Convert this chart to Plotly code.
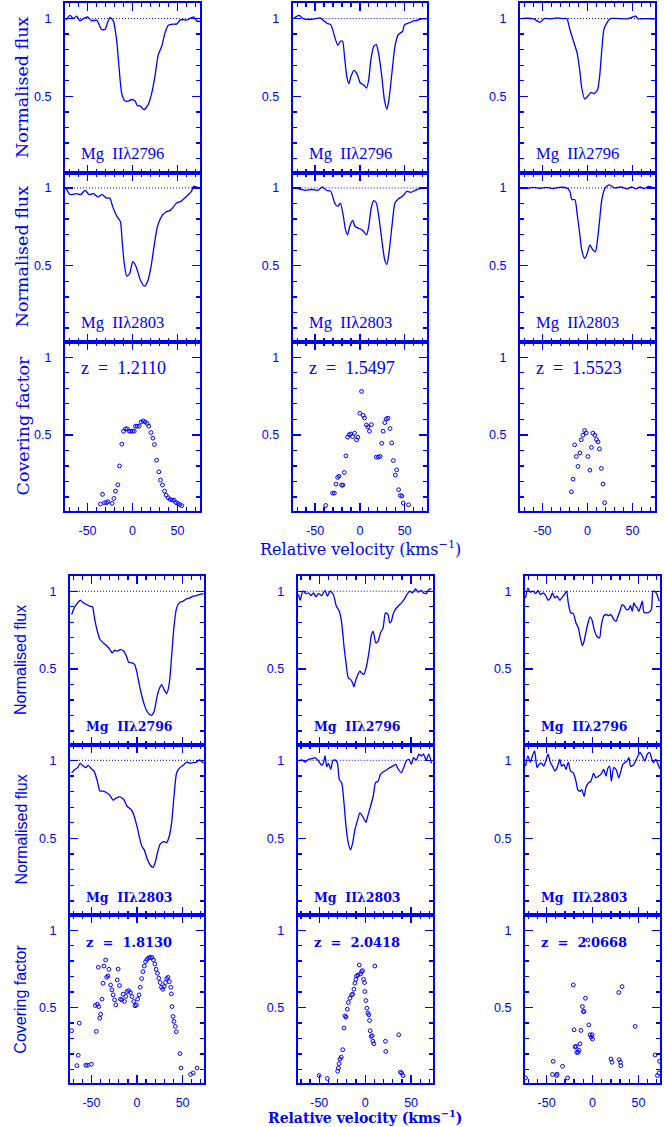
import plotly.graph_objects as go

# ------------------------------------------------------------------ data
# Top set, column 1 (z = 1.2110)
t1_v2796 = [-74, -69.4, -65.7, -62, -58.3, -54.6, -50, -45.4, -39.8, -34.3, -30.5, -27.9, -25, -21.3, -17.6,
            -15, -12, -8.3, -4.6, -0.9, 2.8, 5.4, 8.3, 12.8, 17.6, 21.3, 25, 28.7, 32.4, 36, 39.8, 45.4, 49,
            52.8, 56.5, 60.2, 65.7, 68.3, 71.3, 75]
t1_f2796 = [0.99, 1.02, 1.0, 1.015, 0.985, 1.0, 1.01, 0.985, 0.99, 0.93, 0.93, 0.97, 1.006, 0.985, 0.86,
            0.69, 0.52, 0.47, 0.47, 0.48, 0.47, 0.44, 0.44, 0.415, 0.45, 0.52, 0.63, 0.77, 0.82, 0.905, 0.957,
            0.964, 0.964, 0.99, 0.994, 0.99, 1.006, 1.01, 0.985, 0.98]
t1_v2803 = [-74, -69.3, -62.2, -57.5, -52.8, -48, -43.3, -38.6, -33.8, -29, -25.3, -22, -17.3, -13.5, -11.6,
            -9.2, -6.4, -3.1, 0.25, 4, 8.8, 13.5, 17.3, 20.6, 23.9, 27.7, 32.4, 37.2, 41.9, 44.3, 49, 53.7,
            60.8, 65.5, 67.9, 72.6, 75]
t1_f2803 = [1.0, 0.957, 0.963, 0.957, 0.985, 0.957, 0.963, 0.942, 0.957, 0.935, 0.935, 0.88, 0.817, 0.785,
            0.666, 0.515, 0.433, 0.45, 0.526, 0.494, 0.407, 0.369, 0.407, 0.494, 0.623, 0.752, 0.817, 0.845,
            0.856, 0.87, 0.903, 0.914, 0.95, 0.978, 1.01, 1.004, 1.0]
t1_vcf = [-35.6, -33.3, -31.1, -28.9, -27.4, -22.6, -20.7, -18.9, -16.3, -14.4, -11.9, -10, -7.8, -5.9, -3.7,
          -1.9, 0, 1.9, 3.3, 5.2, 7.4, 9.6, 11.9, 14.1, 16.3, 18.1, 20.4, 22.6, 24.4, 26.7, 29.3, 31.1, 33.3,
          35.6, 37.4, 39.6, 41.9, 44.1, 46.3, 48.1, 50.4, 52.6, 54.8]
t1_cf = [0.055, 0.117, 0.063, 0.063, 0.07, 0.059, 0.091, 0.138, 0.179, 0.30, 0.44, 0.524, 0.539, 0.539, 0.524,
         0.524, 0.524, 0.524, 0.556, 0.556, 0.556, 0.583, 0.59, 0.583, 0.573, 0.556, 0.515, 0.479, 0.438,
         0.337, 0.262, 0.209, 0.177, 0.138, 0.112, 0.095, 0.085, 0.08, 0.08, 0.065, 0.059, 0.052, 0.044]

# Top set, column 2 (z = 1.5497)
t2_v2796 = [-74, -67.9, -63.2, -56.1, -49, -44.3, -39.6, -36.3, -32.5, -27.8, -24.5, -21.7, -19.3, -17, -14.6,
            -12.3, -9.9, -6.6, -2.8, 0.5, 4.2, 7.5, 9.9, 12.3, 15.6, 18.4, 20.8, 24.1, 27.4, 30.2, 32.5, 35.8,
            39.2, 42.9, 47.6, 50, 54.7, 59.4, 64.2, 68.9, 75]
t2_f2796 = [1.0, 1.02, 1.0, 0.994, 1.0, 1.004, 0.983, 0.968, 0.961, 0.876, 0.828, 0.854, 0.854, 0.747, 0.629,
            0.582, 0.629, 0.667, 0.64, 0.586, 0.575, 0.554, 0.607, 0.736, 0.822, 0.833, 0.779, 0.65, 0.479,
            0.418, 0.479, 0.65, 0.822, 0.897, 0.918, 0.961, 0.972, 0.983, 0.989, 0.998, 1.0]
t2_v2803 = [-74, -67.9, -60.8, -53.8, -46.7, -42, -37.3, -32.5, -27.8, -24.5, -21.7, -18.4, -16, -13.7, -11.3,
            -8, -5.2, -1.9, 1.4, 4.2, 7.5, 9.9, 12.7, 15.6, 18.4, 21.7, 25, 27.8, 30.2, 32.5, 35.8, 39.2, 42.9,
            47.6, 52.4, 57.1, 61.8, 66.5, 75]
t2_f2803 = [1.0, 0.994, 0.985, 0.99, 0.985, 1.006, 0.985, 0.978, 0.899, 0.881, 0.903, 0.817, 0.731, 0.699,
            0.752, 0.791, 0.752, 0.742, 0.735, 0.72, 0.699, 0.752, 0.871, 0.918, 0.903, 0.795, 0.645, 0.537,
            0.509, 0.58, 0.752, 0.903, 0.929, 0.946, 0.978, 0.972, 0.985, 0.994, 1.0]
t2_vcf = [-38.1, -30.4, -28.5, -26.7, -24.8, -23.3, -20.4, -18.9, -17.4, -15.6, -13.7, -11.9, -10, -8.1, -5.9,
          -3.7, -2.2, 0, 1.9, 3.7, 5.2, 7.4, 8.9, 10.7, 13, 18.5, 20.7, 22.6, 24.4, 25.9, 27.8, 29.6, 31.5,
          33.7, 35.6, 37.4, 39.6, 41.1, 43.3, 45.2, 47, 48.5, 54.4]
t2_cf = [0.046, 0.125, 0.125, 0.183, 0.226, 0.234, 0.177, 0.177, 0.258, 0.365, 0.485, 0.502, 0.506, 0.489,
         0.511, 0.468, 0.485, 0.639, 0.78, 0.626, 0.609, 0.564, 0.551, 0.524, 0.566, 0.357, 0.357, 0.361,
         0.446, 0.524, 0.579, 0.603, 0.607, 0.541, 0.449, 0.335, 0.241, 0.275, 0.147, 0.11, 0.106, 0.061, 0.05]

# Top set, column 3 (z = 1.5523)
t3_v2796 = [-74, -67, -59.9, -52.8, -48, -41, -33.8, -26.7, -23, -19.6, -14.9, -11.6, -8.7, -6.4, -3.1, 0.7,
            4, 7.3, 11.1, 13.5, 15.9, 18.2, 21.5, 25.3, 34.8, 44.3, 53.7, 56.1, 63.2, 75]
t3_f2796 = [1.0, 1.002, 0.998, 0.976, 1.0, 0.998, 1.004, 1.0, 1.0, 0.93, 0.843, 0.78, 0.672, 0.554, 0.483,
            0.504, 0.526, 0.517, 0.543, 0.629, 0.8, 0.929, 0.972, 1.0, 1.0, 0.998, 1.015, 0.998, 1.0, 0.998]
t3_v2803 = [-74, -67, -59.9, -52.8, -45.7, -38.6, -31.5, -23, -19.6, -17.3, -14, -11.6, -8.7, -6.4, -3.1, -0.2,
            2.6, 5.5, 8.8, 11.1, 13.5, 15.9, 19.6, 24.4, 30, 37.2, 44.3, 49, 53.7, 58.5, 63.2, 67.9, 75]
t3_f2803 = [1.0, 0.998, 1.004, 0.998, 1.004, 0.996, 1.004, 1.0, 0.978, 0.925, 0.925, 0.838, 0.709, 0.6, 0.547,
            0.58, 0.634, 0.606, 0.59, 0.666, 0.795, 0.925, 1.0, 1.02, 1.0, 1.006, 0.994, 1.006, 0.994, 1.006,
            0.996, 1.01, 0.998]
t3_vcf = [-17.9, -16.1, -14.3, -12.5, -10.6, -8.4, -7, -5.1, -3.3, -1.5, 0.4, 2.6, 4.4, 5.9, 8.1, 10, 11.7,
          13.2, 15.4, 17.2, 19]
t3_cf = [0.134, 0.215, 0.436, 0.361, 0.297, 0.384, 0.468, 0.498, 0.528, 0.513, 0.361, 0.273, 0.419, 0.511,
         0.498, 0.47, 0.455, 0.41, 0.284, 0.183, 0.063]

# Bottom set, column 1 (z = 1.8130)
b1_v2796 = [-71.7, -68.8, -65.2, -62.3, -58.7, -55.1, -51.4, -48.9, -46.4, -43.5, -40.6, -36.2, -32.6, -29.7,
            -27.2, -24.6, -21.7, -18.1, -14.5, -11.6, -9.1, -5.4, -2.5, 0, 2.9, 5.4, 8, 10.9, 13.8, 16.3, 18.8,
            21.7, 24.3, 27.2, 29.7, 32.6, 35.5, 38, 40.6, 43.5, 47.1, 50.7, 54.3, 58, 61.6, 65.2, 68.8, 73]
b1_f2796 = [0.85, 0.893, 0.925, 0.942, 0.925, 0.914, 0.903, 0.9, 0.818, 0.742, 0.689, 0.663, 0.646, 0.624,
            0.603, 0.62, 0.614, 0.624, 0.614, 0.582, 0.543, 0.539, 0.528, 0.474, 0.388, 0.324, 0.27, 0.227,
            0.206, 0.202, 0.227, 0.313, 0.371, 0.399, 0.367, 0.341, 0.41, 0.582, 0.775, 0.893, 0.929, 0.936,
            0.951, 0.957, 0.968, 0.972, 0.979, 0.985]
b1_v2803 = [-71.7, -68.8, -65.2, -62.3, -59.8, -56.2, -53.6, -50, -47.1, -43.5, -40.6, -37, -33.3, -29.7,
            -26.1, -22.5, -18.8, -14.5, -10.9, -6.5, -3.6, 0, 2.9, 5.4, 8, 10.9, 14.5, 17.4, 19.9, 22.5, 25.4,
            29, 32.6, 35.5, 38, 40.6, 43.5, 47.1, 50.7, 54.3, 58, 61.6, 65.2, 68.8, 73]
b1_f2803 = [0.92, 0.938, 0.953, 0.981, 0.968, 0.953, 0.968, 0.946, 0.931, 0.867, 0.803, 0.803, 0.792, 0.775,
            0.745, 0.76, 0.766, 0.749, 0.706, 0.685, 0.652, 0.577, 0.502, 0.448, 0.427, 0.373, 0.33, 0.315,
            0.345, 0.41, 0.463, 0.479, 0.474, 0.517, 0.601, 0.77, 0.92, 0.953, 0.968, 0.989, 0.981, 0.985,
            0.989, 1.002, 0.981]
b1_vcf = [-71.7, -66, -64.5, -63.4, -56.2, -54.3, -50, -45.7, -44.6, -43.5, -42.4, -42, -40.9, -39.9, -38.4,
          -37.3, -36.2, -34.4, -33.3, -31.9, -30.8, -29, -27.5, -26.1, -24.6, -23.2, -21.7, -20.7, -19.2,
          -18.1, -16.7, -15.2, -13.8, -12.3, -10.9, -9.1, -7.2, -5.4, -3.6, -2.2, -0.7, 0.7, 2.2, 3.6, 5.1,
          6.5, 8, 9.4, 10.9, 12.7, 14.5, 16.3, 18.1, 19.6, 21, 22.5, 23.9, 25.4, 26.8, 28.3, 29.7, 31.2, 32.6,
          34.1, 35.5, 37, 37.7, 38.4, 39.5, 40.6, 42, 43.1, 47.1, 48.2, 58.7, 61.6, 65.9]
b1_cf = [0.35, 0.124, 0.191, 0.399, 0.127, 0.127, 0.133, 0.513, 0.345, 0.521, 0.76, 0.506, 0.431, 0.457,
         0.554, 0.657, 0.768, 0.807, 0.695, 0.704, 0.747, 0.646, 0.614, 0.582, 0.549, 0.517, 0.678, 0.749,
         0.642, 0.554, 0.549, 0.586, 0.539, 0.571, 0.603, 0.609, 0.597, 0.571, 0.539, 0.511, 0.517, 0.554,
         0.582, 0.631, 0.687, 0.732, 0.768, 0.796, 0.811, 0.82, 0.824, 0.824, 0.807, 0.781, 0.747, 0.721,
         0.689, 0.661, 0.631, 0.618, 0.635, 0.661, 0.687, 0.695, 0.667, 0.631, 0.588, 0.506, 0.442, 0.41,
         0.378, 0.343, 0.202, 0.109, 0.067, 0.077, 0.109]

# Bottom set, column 2 (z = 2.0418)
b2_v2796 = [-72.6, -70.8, -67.9, -64.3, -61.7, -59.2, -56.3, -53.4, -50.9, -47.3, -43.7, -41.2, -38.3, -34.7,
            -31.4, -28.2, -25.6, -23.1, -20.9, -18.4, -15.9, -13.7, -12.3, -10.1, -7.9, -5.8, -4, -1.4, 1.4,
            4.3, 6.9, 8.7, 11.6, 14.1, 16.6, 19.5, 22, 24.9, 26.7, 28.5, 30.3, 33.2, 35.7, 39.4, 42.2, 45.5,
            48.4, 51.3, 54.9, 57.4, 61, 63.5, 66.4, 69.3, 72.2]
b2_f2796 = [0.979, 0.942, 1.0, 0.985, 0.989, 0.972, 0.989, 0.964, 0.985, 0.972, 1.006, 0.968, 1.0, 0.979,
            0.903, 0.871, 0.796, 0.646, 0.539, 0.442, 0.431, 0.41, 0.384, 0.431, 0.464, 0.485, 0.474, 0.464,
            0.517, 0.614, 0.721, 0.742, 0.667, 0.678, 0.732, 0.764, 0.861, 0.85, 0.796, 0.807, 0.85, 0.886,
            0.903, 0.925, 0.946, 0.979, 1.0, 0.989, 1.015, 0.994, 1.006, 0.989, 0.985, 1.011, 1.015]
b2_v2803 = [-72.6, -69, -65.3, -61.7, -58.1, -54.5, -50.9, -47.3, -45.5, -43.7, -41.9, -40.1, -37.5, -35.4,
            -32.9, -30.3, -28.2, -25.6, -23.1, -20.9, -18.4, -15.9, -13.7, -11.2, -8.7, -5.8, -2.9, 0.7, 3.2,
            5.8, 8.7, 11.2, 14.1, 16.6, 19.5, 23.1, 26.7, 30.3, 33.2, 35.7, 39.4, 41.9, 44.8, 47.7, 50.2, 52.7,
            55.6, 58.5, 61, 63.5, 66.4, 69.3, 72.2]
b2_f2803 = [0.996, 1.002, 0.989, 1.006, 1.011, 1.017, 0.996, 0.968, 0.985, 1.028, 0.959, 0.981, 0.942, 0.996,
            1.002, 0.985, 0.878, 0.856, 0.727, 0.577, 0.47, 0.427, 0.47, 0.556, 0.609, 0.663, 0.642, 0.603,
            0.652, 0.706, 0.77, 0.856, 0.867, 0.91, 0.925, 0.938, 0.953, 0.964, 0.974, 0.946, 0.921, 0.953,
            0.996, 1.006, 0.974, 1.017, 1.002, 1.039, 1.028, 1.039, 1.002, 1.039, 0.981]
b2_vcf = [-50.2, -41.2, -30, -29.2, -28.5, -27.4, -26, -24.5, -23.1, -22, -20.9, -19.5, -18.4, -16.6, -14.8,
          -13.7, -12.3, -11.2, -10.1, -9.4, -7.9, -6.5, -5.1, -4, -2.9, -1.8, -0.7, -0.4, 0.7, 1.8, 2.9, 4,
          4.7, 5.4, 6.5, 7.6, 8.3, 9.4, 10.5, 22, 22.4, 36.5, 38.3, 39.7, 41.2]
b2_cf = [0.06, 0.041, 0.088, 0.109, 0.137, 0.167, 0.18, 0.227, 0.367, 0.446, 0.438, 0.489, 0.532, 0.56, 0.582,
         0.586, 0.618, 0.657, 0.682, 0.704, 0.71, 0.775, 0.717, 0.732, 0.738, 0.682, 0.661, 0.603, 0.545,
         0.496, 0.464, 0.453, 0.416, 0.35, 0.313, 0.318, 0.282, 0.266, 0.768, 0.282, 0.216, 0.324, 0.082,
         0.077, 0.06]

# Bottom set, column 3 (z = 2.0668)
b3_v2796 = [-72.9, -70.3, -67.8, -64.8, -61.9, -59.3, -56.8, -53.8, -50.9, -48.4, -45.8, -43.6, -41, -38.5,
            -35.5, -32.6, -30, -28.2, -26.4, -23.8, -20.9, -18, -15.4, -13.6, -11, -9.2, -7, -4.4, -2.6, -0.7,
            1.8, 4.8, 7.7, 9.5, 12.1, 15, 17.6, 20.1, 23.1, 25.6, 27.8, 30.4, 32.2, 34.8, 37, 39.6, 41.4, 43.2,
            45.1, 46.9, 48.7, 50.5, 52.4, 54.2, 56, 59, 61.5, 64.1, 65.9, 68.9, 70.7, 72.5]
b3_f2796 = [0.957, 1.02, 0.994, 1.0, 0.985, 1.006, 0.979, 0.989, 0.972, 0.942, 0.957, 0.989, 0.957, 0.968,
            0.942, 0.964, 0.985, 1.0, 0.925, 0.861, 0.856, 0.796, 0.764, 0.71, 0.65, 0.678, 0.742, 0.807, 0.835,
            0.818, 0.753, 0.71, 0.7, 0.775, 0.839, 0.85, 0.843, 0.85, 0.818, 0.807, 0.839, 0.882, 0.914, 0.903,
            0.882, 0.886, 0.908, 0.871, 0.925, 0.903, 0.893, 0.871, 0.903, 0.936, 0.865, 0.861, 0.865, 0.882,
            1.0, 0.994, 0.972, 0.936]
b3_v2803 = [-72.9, -70.3, -67.8, -64.8, -63, -60.4, -58.2, -55.7, -53.1, -50.9, -48.4, -45.8, -43.6, -41,
            -38.5, -35.5, -33.7, -31.1, -28.9, -26.4, -23.8, -20.9, -18, -16.1, -13.6, -11.7, -9.2, -7.3, -4.4,
            -1.8, 1.1, 3.7, 6.6, 9.2, 12.1, 14.7, 16.5, 18.7, 20.5, 23.1, 25.6, 28.6, 30.4, 33, 35.2, 37.7,
            39.6, 41.4, 44.3, 46.9, 49.5, 51.6, 54.2, 56.8, 59.7, 62.3, 64.1, 66.3, 68.9, 71.4, 73.3]
b3_f2803 = [0.963, 1.028, 0.989, 1.039, 1.06, 0.953, 0.974, 0.981, 0.963, 0.996, 1.039, 0.985, 0.963, 0.931,
            0.953, 1.006, 0.963, 0.974, 0.942, 0.989, 0.931, 0.92, 0.866, 0.813, 0.802, 0.813, 0.769, 0.823,
            0.856, 0.866, 0.916, 0.888, 0.899, 0.91, 0.942, 0.899, 0.946, 0.963, 0.866, 0.953, 0.942, 0.888,
            0.92, 0.974, 0.985, 0.996, 1.017, 0.963, 0.968, 0.996, 1.028, 1.05, 1.028, 0.996, 1.039, 1.05,
            1.017, 0.985, 1.006, 0.974, 0.946]
b3_vcf = [-72.9, -43.6, -42.9, -39.2, -38.5, -32.6, -27.1, -20.9, -20.1, -19, -17.9, -17.2, -15.7, -14.7,
          -13.6, -12.5, -11, -9.9, -9.2, -7.7, -5.1, -4, -2.6, -1.5, -0.4, 0, 20.1, 21.2, 28.6, 28.9, 30.4,
          30.8, 32.2, 46.5, 68.1, 70.7, 72.5, 72.9]
b3_cf = [0.045, 0.067, 0.152, 0.06, 0.069, 0.12, 0.045, 0.646, 0.356, 0.245, 0.249, 0.21, 0.21, 0.223, 0.266,
         0.352, 0.506, 0.474, 0.474, 0.56, 0.936, 0.388, 0.324, 0.309, 0.324, 0.296, 0.167, 0.146, 0.597,
         0.163, 0.146, 0.124, 0.635, 0.378, 0.193, 0.06, 0.077, 0.152]

redshifts_top = ["1.2110", "1.5497", "1.5523"]
redshifts_bot = ["1.8130", "2.0418", "2.0668"]
line_names = ["Mg IIλ2796", "Mg IIλ2803"]
x_tickvals = [-50, 0, 50]
x_ticktext = ["-50", "0", "50"]
x_minor = [-70, -60, -40, -30, -20, -10, 10, 20, 30, 40, 60, 70]
y_tickvals = [0.5, 1]
y_ticktext = ["0.5", "1"]
y_minor = [0.1, 0.2, 0.3, 0.4, 0.6, 0.7, 0.8, 0.9]

# ------------------------------------------------------------------ layout geometry (pixels)
W, H = 664, 1127
BLUE = "#0000ff"

def fx(x):
    return x / W

def fy(y):
    return 1 - y / H

groups = [
    dict(cols=[(65, 200), (292.7, 427), (520, 655)],
         rows=[(3.3, 172.7), (172.7, 342), (342, 511)],
         xr=[-75, 75],
         data=[[(t1_v2796, t1_f2796), (t1_v2803, t1_f2803), (t1_vcf, t1_cf)],
               [(t2_v2796, t2_f2796), (t2_v2803, t2_f2803), (t2_vcf, t2_cf)],
               [(t3_v2796, t3_f2796), (t3_v2803, t3_f2803), (t3_vcf, t3_cf)]],
         z=redshifts_top, top=True),
    dict(cols=[(70, 204), (297.7, 432.7), (525, 660)],
         rows=[(576, 745), (745, 915), (915, 1083.3)],
         xr=[-73.5, 73.5],
         data=[[(b1_v2796, b1_f2796), (b1_v2803, b1_f2803), (b1_vcf, b1_cf)],
               [(b2_v2796, b2_f2796), (b2_v2803, b2_f2803), (b2_vcf, b2_cf)],
               [(b3_v2796, b3_f2796), (b3_v2803, b3_f2803), (b3_vcf, b3_cf)]],
         z=redshifts_bot, top=False),
]

YR = [0.01, 1.098]
tickfont = dict(family="Liberation Sans, Arial, sans-serif", size=12.5, color=BLUE)

fig = go.Figure()
layout = dict(width=W, height=H, margin=dict(l=0, r=0, t=0, b=0),
              paper_bgcolor="white", plot_bgcolor="white", showlegend=False)
annotations = []

n = 0
for g in groups:
    for ci, (x0, x1) in enumerate(g["cols"]):
        for ri, (y0, y1) in enumerate(g["rows"]):
            n += 1
            xa = "xaxis" if n == 1 else f"xaxis{n}"
            ya = "yaxis" if n == 1 else f"yaxis{n}"
            xr_ = "x" if n == 1 else f"x{n}"
            yr_ = "y" if n == 1 else f"y{n}"
            layout[xa] = dict(
                domain=[fx(x0), fx(x1)], range=g["xr"], anchor=yr_,
                showline=True, linecolor=BLUE, linewidth=2, mirror="allticks",
                ticks="inside", ticklen=8, tickwidth=1.3, tickcolor=BLUE,
                tickmode="array", tickvals=x_tickvals, ticktext=x_ticktext,
                showticklabels=(ri == 2), tickfont=tickfont, ticklabelstandoff=7,
                minor=dict(ticks="inside", tickmode="array", tickvals=x_minor, ticklen=4,
                           tickwidth=1.3, tickcolor=BLUE, showgrid=False),
                showgrid=False, zeroline=False, fixedrange=True)
            layout[ya] = dict(
                domain=[fy(y1), fy(y0)], range=YR, anchor=xr_,
                showline=True, linecolor=BLUE, linewidth=2, mirror="allticks",
                ticks="inside", ticklen=8, tickwidth=1.3, tickcolor=BLUE,
                tickmode="array", tickvals=y_tickvals, ticktext=y_ticktext,
                showticklabels=True, tickfont=tickfont, ticklabelstandoff=9,
                minor=dict(ticks="inside", tickmode="array", tickvals=y_minor, ticklen=4,
                           tickwidth=1.3, tickcolor=BLUE, showgrid=False),
                showgrid=False, zeroline=False, fixedrange=True)
            vx, vy = g["data"][ci][ri]
            if ri < 2:
                fig.add_trace(go.Scatter(x=g["xr"], y=[1, 1], mode="lines", xaxis=xr_, yaxis=yr_,
                                         line=dict(color=BLUE, width=1, dash="1px,2px"),
                                         hoverinfo="skip"))
                fig.add_trace(go.Scatter(x=vx, y=vy, mode="lines", xaxis=xr_, yaxis=yr_,
                                         line=dict(color=BLUE, width=1.3, shape="spline", smoothing=0.6)))
                if g["top"]:
                    font = dict(family="Liberation Serif, serif", size=16.5, color=BLUE)
                    yc = y1 - 19.5
                else:
                    font = dict(family="DejaVu Serif, serif", size=12.5, color=BLUE, weight="bold")
                    yc = y1 - 18
                annotations.append(dict(x=fx(x0 + 14), y=fy(yc), xref="paper", yref="paper",
                                        text=line_names[ri].replace(" ", "\u00a0\u00a0"),
                                        showarrow=False, xanchor="left", yanchor="middle", font=font))
            else:
                fig.add_trace(go.Scatter(x=vx, y=vy, mode="markers", xaxis=xr_, yaxis=yr_,
                                         marker=dict(symbol="circle-open", size=3.8, color=BLUE,
                                                     line=dict(width=1, color=BLUE))))
                if g["top"]:
                    font = dict(family="Liberation Serif, serif", size=18, color=BLUE)
                    yc = y0 + 26
                else:
                    font = dict(family="DejaVu Serif, serif", size=13, color=BLUE, weight="bold")
                    yc = y0 + 27
                annotations.append(dict(x=fx(x0 + 14), y=fy(yc), xref="paper", yref="paper",
                                        text="z\u00a0\u00a0=\u00a0\u00a0" + g["z"][ci],
                                        showarrow=False, xanchor="left", yanchor="middle", font=font))

# axis titles
for g in groups:
    rows = g["rows"]
    if g["top"]:
        tfont = dict(family="DejaVu Serif, serif", size=17.5, color=BLUE)
        xt = 22
        vel_font = dict(family="DejaVu Serif, serif", size=16, color=BLUE)
        vel_xy = (360, 548)
    else:
        tfont = dict(family="Liberation Sans, Arial, sans-serif", size=16, color=BLUE)
        xt = 20.5
        vel_font = dict(family="DejaVu Serif, serif", size=14, color=BLUE, weight="bold")
        vel_xy = (365, 1117)
    for ri, title in enumerate(["Normalised flux", "Normalised flux", "Covering factor"]):
        yc = (rows[ri][0] + rows[ri][1]) / 2
        annotations.append(dict(x=fx(xt), y=fy(yc), xref="paper", yref="paper", text=title,
                                textangle=-90, showarrow=False, xanchor="center", yanchor="middle",
                                font=tfont))
    annotations.append(dict(x=fx(vel_xy[0]), y=fy(vel_xy[1]), xref="paper", yref="paper",
                            text="Relative velocity (kms<sup>−1</sup>)", showarrow=False,
                            xanchor="center", yanchor="middle", font=vel_font))

layout["annotations"] = annotations
fig.update_layout(**layout)
fig.write_html("out.html", include_plotlyjs=True, config={"displayModeBar": False, "staticPlot": True})
